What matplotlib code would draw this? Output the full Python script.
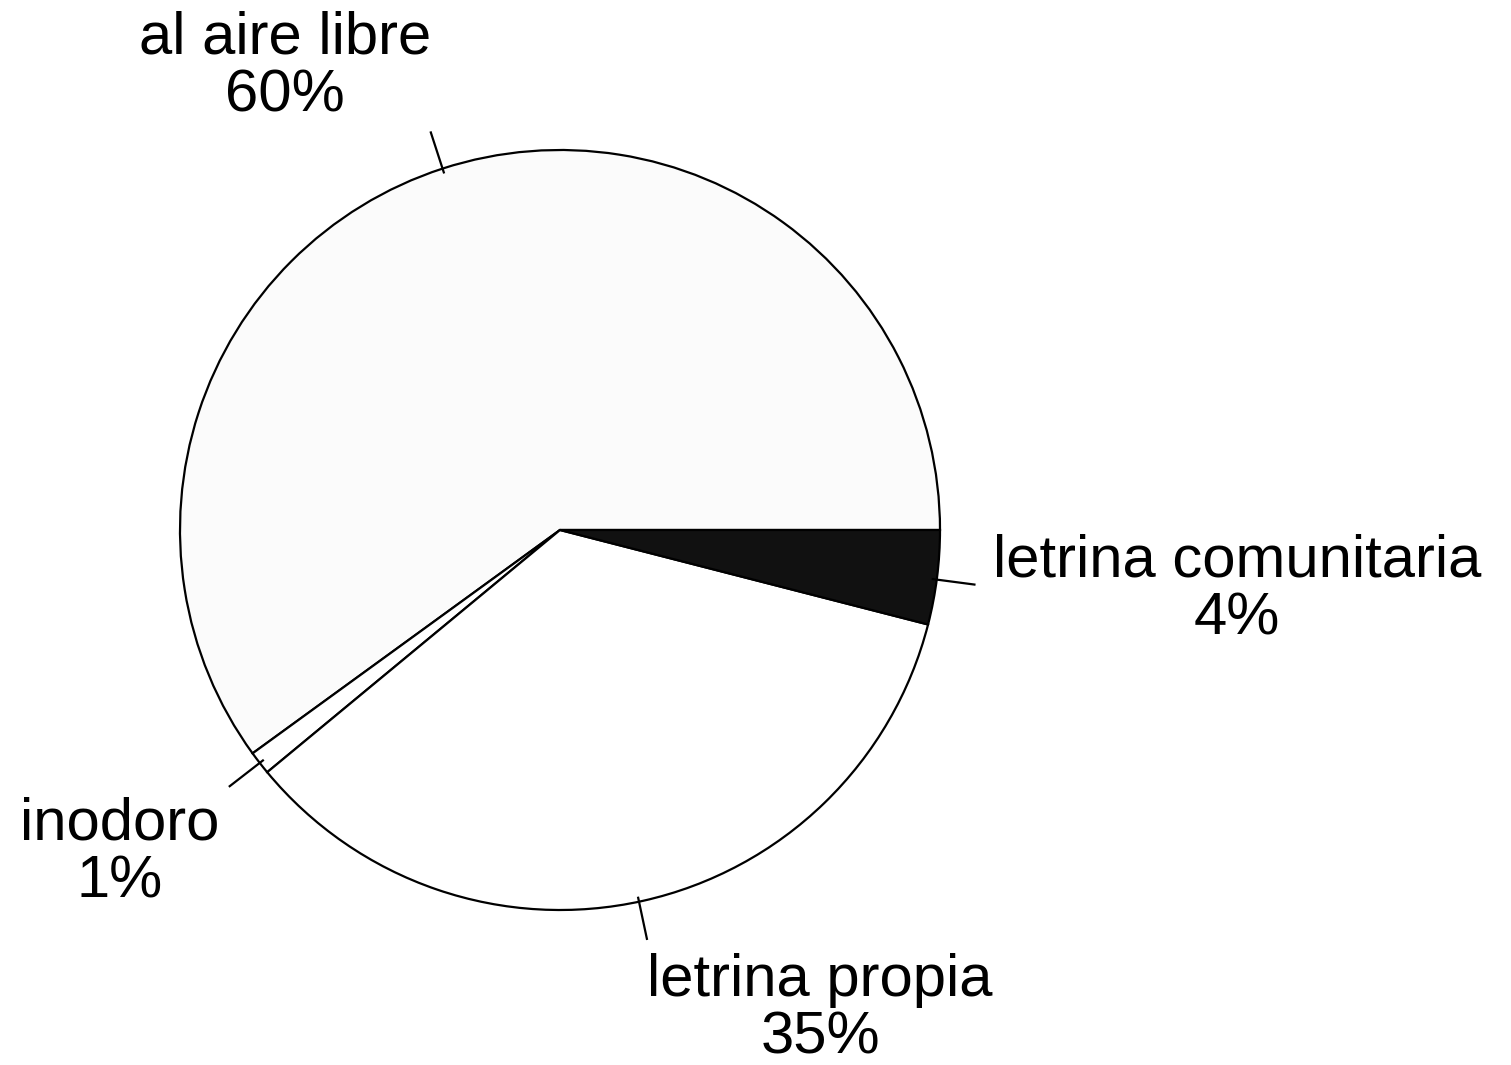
import matplotlib.pyplot as plt
import numpy as np

# datos
categorias = ["al aire libre", "inodoro", "letrina propia", "letrina comunitaria"]
porcentajes = [60, 1, 35, 4]
colores = ["#fbfbfb", "white", "white", "#111111"]

# angulo (grados) de la linea guia de cada etiqueta
angulo_guia = [108.0, 217.8, 282.0, 352.5]
pos_texto = [(285, 998), (120, 212), (820, 56), (1237, 475)]

fig = plt.figure(figsize=(15.11, 10.65), dpi=100)
ax = fig.add_axes([0, 0, 1, 1])

centro = (560, 535)
radio = 380
wedges, _ = ax.pie(porcentajes, colors=colores, startangle=0, counterclock=True,
                   center=centro, radius=radio,
                   wedgeprops=dict(edgecolor="black", linewidth=1.6))

for nombre, p, ang, (tx, ty) in zip(categorias, porcentajes, angulo_guia, pos_texto):
    a = np.deg2rad(ang)
    r0, r1 = radio - 4, radio + 38
    ax.plot([centro[0] + r0 * np.cos(a), centro[0] + r1 * np.cos(a)],
            [centro[1] + r0 * np.sin(a), centro[1] + r1 * np.sin(a)],
            color="black", lw=1.6)
    ax.text(tx, ty, f"{nombre}\n{p}%", ha="center", va="center",
            fontsize=43, family="Liberation Sans", linespacing=1.05)

ax.set_xlim(0, 1511)
ax.set_ylim(0, 1065)
ax.set_aspect("equal")
ax.axis("off")

fig.savefig("out.png", dpi=100)
